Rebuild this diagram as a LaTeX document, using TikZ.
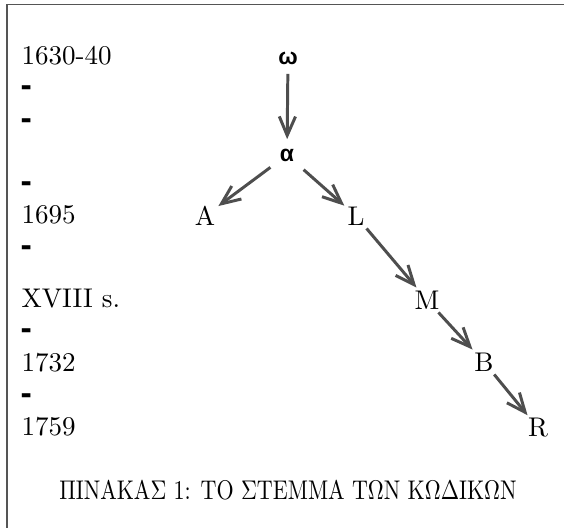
\documentclass[tikz,border=0pt]{standalone}
\usepackage{fontspec}
\newfontfamily\stemmasans{Liberation Sans}
\newfontfamily\captionserif[Extension=.otf,FakeStretch=0.815]{lmroman10-regular}
\usepackage{tikz}
\usetikzlibrary{arrows.meta}
\definecolor{stemmagray}{RGB}{78,78,78}
\definecolor{framegray} {RGB}{85,85,85}

\begin{document}
\begin{tikzpicture}[
  x=0.37pt,y=-0.37pt,
  every node/.style={font=\normalsize},
  date/.style={anchor=base west,inner sep=0pt},
  tick/.style={anchor=base west,inner sep=0pt,
               font=\stemmasans\bfseries\fontsize{12.5}{14}\selectfont},
  lost/.style={font=\stemmasans\bfseries\fontsize{8.5}{9}\selectfont},
  codex/.style={inner sep=1pt},
  arr/.style={-{Straight Barb[length=7pt,width=6pt]},line width=1.1pt,stemmagray},
]
\useasboundingbox (0,0) rectangle (564,528);

%% ── Frame ────────────────────────────────────────────────────────────────
\draw[framegray,line width=0.6pt] (564,4.5) -- (7,4.5) -- (7,528);

%% ── Time scale ───────────────────────────────────────────────────────────
\node[date] (d1630) at (21,64)  {1630-40};
\node[tick] (t1)    at (20,96)  {-};
\node[tick] (t2)    at (20,129) {-};
\node[tick] (t3)    at (20,192) {-};
\node[date] (d1695) at (21,223) {1695};
\node[tick] (t4)    at (20,256) {-};
\node[date] (dxviii) at (21,307) {XVIII s.};
\node[tick] (t5)    at (20,339) {-};
\node[date] (d1732) at (21,371) {1732};
\node[tick] (t6)    at (20,404) {-};
\node[date] (d1759) at (21,435) {1759};

%% ── Stemma ───────────────────────────────────────────────────────────────
\node[lost]  (om) at (288,58)  {ω};
\node[lost]  (al) at (287,155) {α};
\node[codex] (A)  at (205,216) {A};
\node[codex] (L)  at (356,216) {L};
\node[codex] (M)  at (427,300) {M};
\node[codex] (B)  at (484,362) {B};
\node[codex] (R)  at (538,428) {R};

\draw[arr] (om) -- (al);
\draw[arr] (al) -- (A);
\draw[arr] (al) -- (L);
\draw[arr] (L) -- (M);
\draw[arr] (M) -- (B);
\draw[arr] (B) -- (R);

%% ── Caption ──────────────────────────────────────────────────────────────
\node[anchor=base,font=\captionserif] (caption) at (288,499)
  {ΠΙΝΑΚΑΣ 1: ΤΟ ΣΤΕΜΜΑ ΤΩΝ ΚΩΔΙΚΩΝ};

\end{tikzpicture}
\end{document}
